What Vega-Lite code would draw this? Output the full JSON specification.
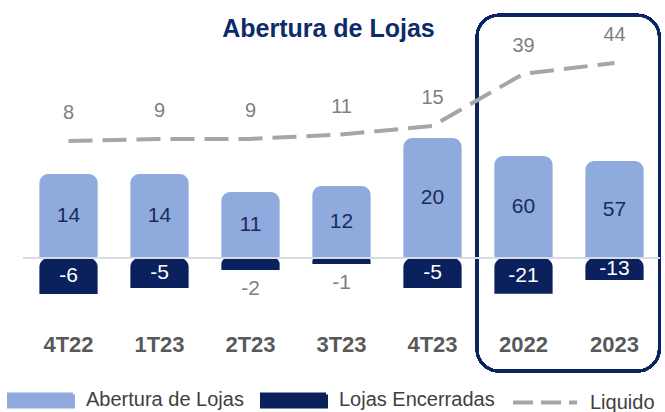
{
  "$schema": "https://vega.github.io/schema/vega-lite/v6.json",
  "autosize": "none",
  "width": 637,
  "height": 320,
  "padding": {"left": 23, "top": 0, "right": 5, "bottom": 92},
  "title": {"text": "Abertura de Lojas", "font": "Liberation Sans", "fontSize": 25, "fontWeight": "bold", "color": "#0D2A6B", "anchor": "middle", "dx": -13, "offset": -37, "dy": 25, "baseline": "alphabetic"},
  "data": {"values": [
    {"periodo": "4T22", "grupo": "tri", "serie": "Abertura de Lojas", "valor": 14},
    {"periodo": "4T22", "grupo": "tri", "serie": "Lojas Encerradas", "valor": -6},
    {"periodo": "4T22", "grupo": "tri", "serie": "Liquido", "valor": 8},
    {"periodo": "1T23", "grupo": "tri", "serie": "Abertura de Lojas", "valor": 14},
    {"periodo": "1T23", "grupo": "tri", "serie": "Lojas Encerradas", "valor": -5},
    {"periodo": "1T23", "grupo": "tri", "serie": "Liquido", "valor": 9},
    {"periodo": "2T23", "grupo": "tri", "serie": "Abertura de Lojas", "valor": 11},
    {"periodo": "2T23", "grupo": "tri", "serie": "Lojas Encerradas", "valor": -2},
    {"periodo": "2T23", "grupo": "tri", "serie": "Liquido", "valor": 9},
    {"periodo": "3T23", "grupo": "tri", "serie": "Abertura de Lojas", "valor": 12},
    {"periodo": "3T23", "grupo": "tri", "serie": "Lojas Encerradas", "valor": -1},
    {"periodo": "3T23", "grupo": "tri", "serie": "Liquido", "valor": 11},
    {"periodo": "4T23", "grupo": "tri", "serie": "Abertura de Lojas", "valor": 20},
    {"periodo": "4T23", "grupo": "tri", "serie": "Lojas Encerradas", "valor": -5},
    {"periodo": "4T23", "grupo": "tri", "serie": "Liquido", "valor": 15},
    {"periodo": "2022", "grupo": "ano", "serie": "Abertura de Lojas", "valor": 60},
    {"periodo": "2022", "grupo": "ano", "serie": "Lojas Encerradas", "valor": -21},
    {"periodo": "2022", "grupo": "ano", "serie": "Liquido", "valor": 39},
    {"periodo": "2023", "grupo": "ano", "serie": "Abertura de Lojas", "valor": 57},
    {"periodo": "2023", "grupo": "ano", "serie": "Lojas Encerradas", "valor": -13},
    {"periodo": "2023", "grupo": "ano", "serie": "Liquido", "valor": 44}
  ]},
  "resolve": {"scale": {"y": "independent"}},
  "layer": [
    {
      "mark": {"type": "rect", "fill": null, "filled": false, "stroke": "#0A2463", "strokeWidth": 2.5, "cornerRadius": 22},
      "encoding": {
        "x": {"datum": "2022", "type": "nominal", "bandPosition": -0.3, "scale": {"domain": ["4T22", "1T23", "2T23", "3T23", "4T23", "2022", "2023"], "paddingInner": 0.36, "paddingOuter": 0.18}},
        "x2": {"datum": "2023", "bandPosition": 1.27},
        "y": {"datum": 66.08, "type": "quantitative", "scale": {"domain": [-74.47, 73.0], "nice": false, "zero": false}, "axis": null},
        "y2": {"datum": -97.97}
      }
    },
    {
      "transform": [{"filter": "datum.grupo === 'tri' && datum.serie !== 'Liquido'"}],
      "mark": {"type": "bar", "cornerRadiusEnd": 9},
      "encoding": {
        "x": {"field": "periodo", "type": "nominal", "sort": null, "title": null},
        "y": {"field": "valor", "type": "quantitative", "stack": null, "scale": {"domain": [-10.333, 43.0], "nice": false, "zero": false}, "axis": null},
        "color": {"field": "serie", "type": "nominal", "scale": {"domain": ["Abertura de Lojas", "Lojas Encerradas", "Liquido"], "range": ["#8FAADC", "#0A215E", "#A6A6A6"]}, "legend": {"orient": "none", "legendX": -16, "legendY": 366, "direction": "horizontal", "title": null, "symbolSize": 4096, "labelFont": "Liberation Sans", "labelFontSize": 20, "labelColor": "#404040", "labelOffset": 11, "columnPadding": 10, "encode": {"symbols": {"update": {
          "shape": {"signal": "datum.value === 'Liquido' ? 'M-1,0H1' : 'M-1,-0.19H1V0.19H-1Z'"},
          "fill": {"signal": "datum.value === 'Liquido' ? 'transparent' : scale('color', datum.value)"},
          "stroke": {"signal": "datum.value === 'Liquido' ? '#A6A6A6' : 'transparent'"},
          "strokeDash": {"signal": "datum.value === 'Liquido' ? [20, 8] : [1, 0]"},
          "strokeWidth": {"value": 4},
          "opacity": {"value": 1}
        }}}}}
      }
    },
    {
      "transform": [{"filter": "datum.grupo === 'ano' && datum.serie !== 'Liquido'"}],
      "mark": {"type": "bar", "cornerRadiusEnd": 9},
      "encoding": {
        "x": {"field": "periodo", "type": "nominal", "sort": null},
        "y": {"field": "valor", "type": "quantitative", "stack": null, "scale": {"domain": [-36.47, 151.76], "nice": false, "zero": false}, "axis": null},
        "color": {"field": "serie", "type": "nominal"}
      }
    },
    {
      "mark": {"type": "rule", "color": "#D6DCE5", "strokeWidth": 1.5},
      "encoding": {
        "y": {"datum": 0, "type": "quantitative", "scale": {"domain": [-10.333, 43.0], "nice": false, "zero": false}, "axis": null}
      }
    },
    {
      "transform": [{"filter": "datum.grupo === 'tri' && datum.serie !== 'Liquido' && (datum.valor >= 3 || datum.valor <= -3)"}],
      "mark": {"type": "text", "font": "Liberation Sans", "fontSize": 21, "baseline": "middle"},
      "encoding": {
        "x": {"field": "periodo", "type": "nominal", "sort": null},
        "y": {"field": "valor", "type": "quantitative", "scale": {"domain": [-20.667, 86.0], "nice": false, "zero": false}, "axis": null},
        "text": {"field": "valor", "type": "nominal"},
        "color": {"condition": {"test": "datum.valor < 0", "value": "#FFFFFF"}, "value": "#1A2B5F"}
      }
    },
    {
      "transform": [{"filter": "datum.grupo === 'tri' && datum.valor < 0 && datum.valor > -3"}],
      "mark": {"type": "text", "font": "Liberation Sans", "fontSize": 21, "baseline": "top", "dy": 8, "color": "#7F7F7F"},
      "encoding": {
        "x": {"field": "periodo", "type": "nominal", "sort": null},
        "y": {"field": "valor", "type": "quantitative", "scale": {"domain": [-10.333, 43.0], "nice": false, "zero": false}, "axis": null},
        "text": {"field": "valor", "type": "nominal"}
      }
    },
    {
      "transform": [{"filter": "datum.grupo === 'ano' && datum.serie !== 'Liquido'"}],
      "mark": {"type": "text", "font": "Liberation Sans", "fontSize": 21, "baseline": "middle"},
      "encoding": {
        "x": {"field": "periodo", "type": "nominal", "sort": null},
        "y": {"field": "valor", "type": "quantitative", "scale": {"domain": [-72.94, 303.53], "nice": false, "zero": false}, "axis": null},
        "text": {"field": "valor", "type": "nominal"},
        "color": {"condition": {"test": "datum.valor < 0", "value": "#FFFFFF"}, "value": "#1A2B5F"}
      }
    },
    {
      "transform": [{"filter": "datum.serie === 'Liquido'"}],
      "mark": {"type": "line", "strokeWidth": 4, "strokeDash": [24, 10]},
      "encoding": {
        "x": {"field": "periodo", "type": "nominal", "sort": null},
        "y": {"field": "valor", "type": "quantitative", "scale": {"domain": [-74.47, 73.0], "nice": false, "zero": false}, "axis": null},
        "color": {"field": "serie", "type": "nominal"}
      }
    },
    {
      "transform": [{"filter": "datum.serie === 'Liquido'"}],
      "mark": {"type": "text", "font": "Liberation Sans", "fontSize": 20, "baseline": "middle", "dy": -28, "color": "#7F7F7F"},
      "encoding": {
        "x": {"field": "periodo", "type": "nominal", "sort": null},
        "y": {"field": "valor", "type": "quantitative", "scale": {"domain": [-74.47, 73.0], "nice": false, "zero": false}, "axis": null},
        "text": {"field": "valor", "type": "nominal"}
      }
    }
  ],
  "config": {
    "view": {"stroke": null},
    "axisX": {"labelFont": "Liberation Sans", "labelFontWeight": "bold", "labelFontSize": 22, "labelColor": "#595959", "domain": false, "ticks": false, "grid": false, "labelAngle": 0, "labelPadding": 14, "title": null}
  }
}
